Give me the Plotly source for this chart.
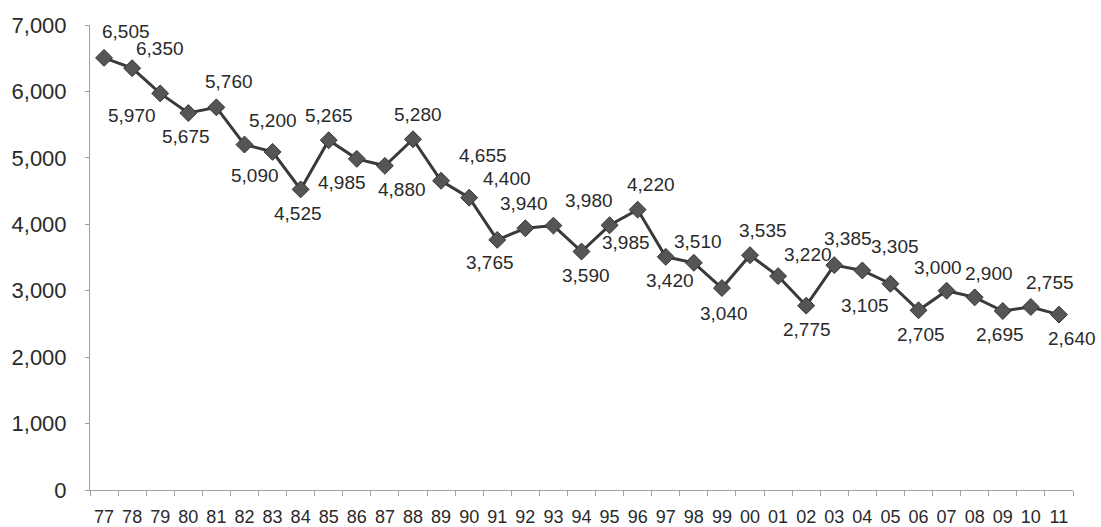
import plotly.graph_objects as go

years = ["77", "78", "79", "80", "81", "82", "83", "84", "85", "86", "87", "88",
         "89", "90", "91", "92", "93", "94", "95", "96", "97", "98", "99", "00",
         "01", "02", "03", "04", "05", "06", "07", "08", "09", "10", "11"]
values = [6505, 6350, 5970, 5675, 5760, 5200, 5090, 4525, 5265, 4985, 4880, 5280,
          4655, 4400, 3765, 3940, 3980, 3590, 3985, 4220, 3510, 3420, 3040, 3535,
          3220, 2775, 3385, 3305, 3105, 2705, 3000, 2900, 2695, 2755, 2640]

# label placement style (pixel shifts of each value label relative to its point)
label_dx = [22, 28, -28, -2, 13, 29, -18, -3, 0, -15, 17, 5,
            42, 38, -7, -1, 36, 4, 16, 13, 32, -24, 2, 13,
            30, 1, 14, 33, -25, 2, -9, 14, -3, 19, 13]
label_dy = [26, 20, -22, -23, 26, 24, -24, -24, 25, -24, -24, 25,
            25, 19, -23, 25, 25, -24, -17, 25, 15, -18, -25, 25,
            22, -24, 27, 24, -22, -24, 23, 24, -24, 24, -24]

FONT = "Liberation Sans, Arial, sans-serif"

fig = go.Figure()
fig.add_trace(go.Scatter(
    x=years, y=values,
    mode="lines+markers",
    line=dict(color="#3a3a3a", width=3),
    marker=dict(symbol="diamond", size=13, color="#555555",
                line=dict(color="#333333", width=1)),
    showlegend=False,
))

# category axis: annotations use the category index as x
for i, (v, dx, dy) in enumerate(zip(values, label_dx, label_dy)):
    fig.add_annotation(
        x=i, y=v, xref="x", yref="y", text=f"{v:,}", showarrow=False,
        xshift=dx, yshift=dy,
        font=dict(family=FONT, size=19, color="#2a2a2a"),
    )

fig.update_layout(
    width=1101, height=527,
    margin=dict(l=90, r=28, t=25, b=37),
    paper_bgcolor="white", plot_bgcolor="white",
    font=dict(family=FONT, color="#2a2a2a"),
)
fig.update_xaxes(
    type="category", categoryorder="array", categoryarray=years,
    range=[-0.5, len(years) - 0.5],
    automargin=False,
    showgrid=False, zeroline=False,
    showline=True, linecolor="#a0a0a0", linewidth=1,
    ticks="outside", tickson="boundaries", ticklen=5, tickcolor="#a0a0a0",
    tickfont=dict(family=FONT, size=18, color="#2a2a2a"),
    tickangle=0,
    ticklabelstandoff=10,
)
fig.update_yaxes(
    range=[0, 7000], dtick=1000, tickformat=",",
    automargin=False,
    showgrid=False, zeroline=False,
    showline=True, linecolor="#a0a0a0", linewidth=1,
    ticks="outside", ticklen=4, tickcolor="#a0a0a0",
    tickfont=dict(family=FONT, size=22, color="#2a2a2a"),
    ticklabelstandoff=14,
)

fig.write_html("out.html", config={"displayModeBar": False},
               post_script="document.body.style.margin='0';")
